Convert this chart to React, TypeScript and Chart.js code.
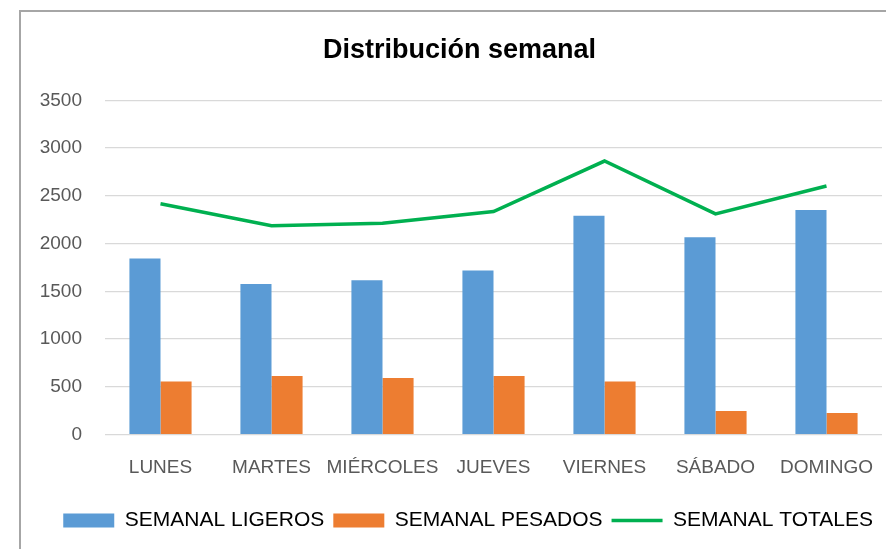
import React, { useEffect, useRef } from "react";
import { Chart, registerables } from "chart.js";

Chart.register(...registerables);

const categories = ["LUNES", "MARTES", "MIÉRCOLES", "JUEVES", "VIERNES", "SÁBADO", "DOMINGO"];
const ligeros = [1845, 1577, 1616, 1718, 2291, 2066, 2351];
const pesados = [555, 615, 594, 615, 555, 246, 225];
const totales = [2417, 2188, 2213, 2336, 2865, 2312, 2604];
const yMin = 0;
const yMax = 3500;
const yStep = 500;

const FONT = "'Liberation Sans', Arial, sans-serif";

export default function App() {
  const ref = useRef<HTMLCanvasElement | null>(null);

  useEffect(() => {
    if (!ref.current) return;
    const chart = new Chart(ref.current, {
      type: "bar",
      data: {
        labels: categories,
        datasets: [
          {
            type: "bar",
            label: "SEMANAL LIGEROS",
            data: ligeros,
            backgroundColor: "#5B9BD5",
            borderWidth: 0,
            pointStyle: "rect",
            barPercentage: 1,
            categoryPercentage: 0.56,
          },
          {
            type: "bar",
            label: "SEMANAL PESADOS",
            data: pesados,
            backgroundColor: "#ED7D31",
            borderWidth: 0,
            pointStyle: "rect",
            barPercentage: 1,
            categoryPercentage: 0.56,
          },
          {
            type: "line",
            label: "SEMANAL TOTALES",
            data: totales,
            borderColor: "#00B050",
            backgroundColor: "#00B050",
            borderWidth: 3.5,
            pointRadius: 0,
            pointHoverRadius: 0,
            pointStyle: "line",
            tension: 0,
            fill: false,
          } as any,
        ],
      },
      options: {
        animation: false,
        responsive: false,
        maintainAspectRatio: false,
        layout: { padding: { left: 37, right: 4, top: 0, bottom: 8 } },
        plugins: {
          title: {
            display: true,
            text: "Distribución semanal",
            color: "#000000",
            font: { family: FONT, size: 27, weight: "bold" },
            padding: { top: 34, bottom: 34 },
          },
          legend: {
            display: true,
            position: "bottom",
            align: "end",
            labels: {
              usePointStyle: true,
              pointStyleWidth: 51,
              boxHeight: 14,
              boxWidth: 51,
              padding: 9,
              color: "#000000",
              font: { family: FONT, size: 21 },
            },
          },
          tooltip: { enabled: false },
        },
        scales: {
          x: {
            grid: { display: false, drawTicks: false },
            border: { display: false },
            ticks: {
              color: "#595959",
              font: { family: FONT, size: 19, lineHeight: 1.6 },
              padding: 18,
              maxRotation: 0,
              minRotation: 0,
              autoSkip: false,
            },
            afterFit: (scale: any) => {
              scale.paddingLeft = 0;
              scale.paddingRight = 0;
            },
          },
          y: {
            min: yMin,
            max: yMax,
            grid: { color: "#d9d9d9", lineWidth: 1.3, drawTicks: false },
            border: { display: false },
            ticks: {
              stepSize: yStep,
              color: "#595959",
              font: { family: FONT, size: 19 },
              padding: 23,
              callback: (v: any) => String(v),
            },
            afterFit: (scale: any) => {
              scale.width = 68;
            },
          },
        },
      },
    });
    return () => chart.destroy();
  }, []);

  return (
    <div style={{ position: "absolute", left: 0, top: 0, width: 886, height: 549, background: "#ffffff" }}>
      <div
        style={{
          position: "absolute",
          left: 19,
          top: 10,
          width: 870,
          height: 545,
          borderLeft: "2px solid #a6a6a6",
          borderTop: "2px solid #a6a6a6",
        }}
      />
      <canvas ref={ref} width={886} height={549} style={{ position: "absolute", left: 0, top: 0, display: "block" }} />
    </div>
  );
}
